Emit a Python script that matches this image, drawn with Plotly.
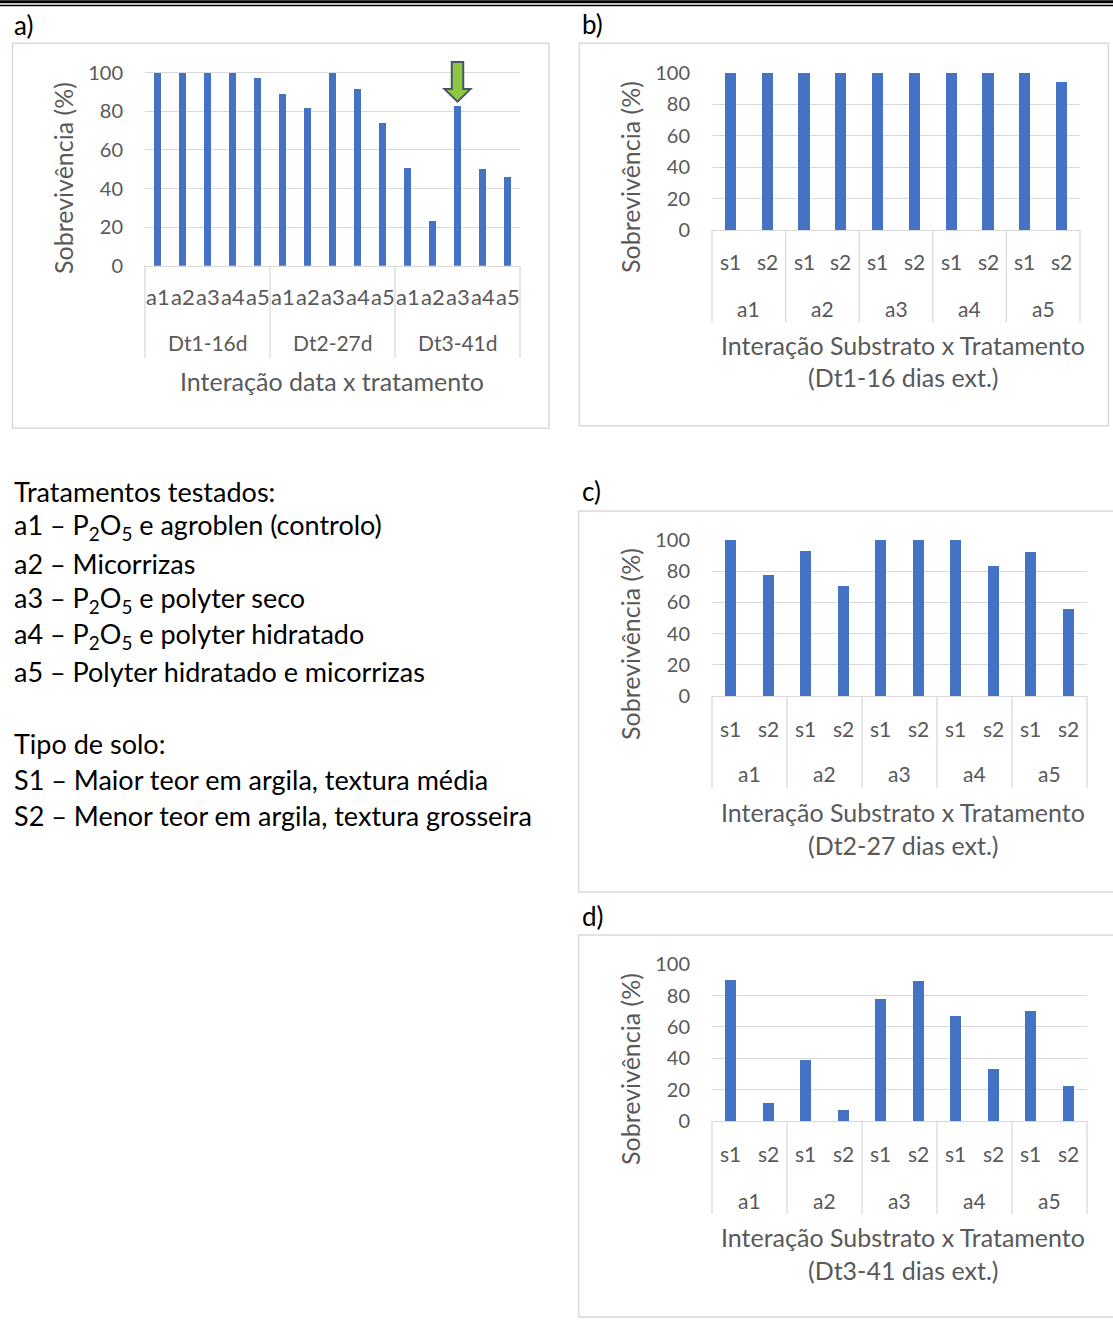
import plotly.graph_objects as go

# ---------------- data ----------------
treatments = ["a1", "a2", "a3", "a4", "a5"]
dates_a = ["Dt1-16d", "Dt2-27d", "Dt3-41d"]
surv_a_dt1 = [100, 100, 100, 100, 97]
surv_a_dt2 = [89, 81.5, 100, 91.5, 74]
surv_a_dt3 = [50.5, 23, 83, 50, 46]
soils = ["s1", "s2"]
surv_b = [100, 100, 100, 100, 100, 100, 100, 100, 100, 94.5]
surv_c = [100, 77.5, 93, 70.5, 100, 100, 100, 83.5, 92.5, 55.5]
surv_d = [90, 11, 39, 7, 77.5, 89, 66.5, 33, 70, 22]
y_ticks = [0, 20, 40, 60, 80, 100]
y_title = "Sobrevivência (%)"
title_a = "Interação data x tratamento"
title_bcd = "Interação Substrato x Tratamento"
sub_b = "(Dt1-16 dias ext.)"
sub_c = "(Dt2-27 dias ext.)"
sub_d = "(Dt3-41 dias ext.)"
legend_lines = [
    "Tratamentos testados:",
    "a1 – P<sub>2</sub>O<sub>5</sub> e agroblen (controlo)",
    "a2 – Micorrizas",
    "a3 – P<sub>2</sub>O<sub>5</sub> e polyter seco",
    "a4 – P<sub>2</sub>O<sub>5</sub> e polyter hidratado",
    "a5 – Polyter hidratado e micorrizas",
    "",
    "Tipo de solo:",
    "S1 – Maior teor em argila, textura média",
    "S2 – Menor teor em argila, textura grosseira",
]
panel_letters = ["a)", "b)", "c)", "d)"]

# ---------------- layout helpers ----------------
W, H = 1113, 1320
FONT = "Lato"
GREY = "#595959"
LINE = "#D9D9D9"
BAR = "#4472C4"


def fx(p):
    return p / W


def fy(p):
    return 1 - p / H


fig = go.Figure()
shapes = []
annotations = []

# panel geometry (pixels)
panels = [
    dict(x0=145, x1=520, y0=265.7, y100=72.7, ytop=59.0,
         sep_bottom=358, inner_y=296.5, outer_y=343, title_y=[381], title_x=332,
         ytitle_x=63, ytitle_y=178, box=(12.5, 43.3, 549, 428.3), letter=(12, 25)),
    dict(x0=712, x1=1080, y0=230, y100=72.7, ytop=72.7,
         sep_bottom=322.5, inner_y=261, outer_y=308, title_y=[345, 377], title_x=903,
         ytitle_x=630, ytitle_y=177, box=(579.3, 43.3, 1108.4, 425.7), letter=(580, 24)),
    dict(x0=712, x1=1087, y0=696, y100=540, ytop=540,
         sep_bottom=788, inner_y=728, outer_y=773, title_y=[812, 845], title_x=903,
         ytitle_x=630, ytitle_y=644, box=(578.7, 511, 1125, 892), letter=(580, 491)),
    dict(x0=712, x1=1087, y0=1121, y100=964.3, ytop=964.3,
         sep_bottom=1214, inner_y=1153, outer_y=1200, title_y=[1237, 1270], title_x=903,
         ytitle_x=630, ytitle_y=1069, box=(578.7, 935, 1125, 1317), letter=(580, 916)),
]

series = [
    surv_a_dt1 + surv_a_dt2 + surv_a_dt3,
    surv_b,
    surv_c,
    surv_d,
]
inner_labels = [
    treatments * len(dates_a),
    soils * len(treatments),
    soils * len(treatments),
    soils * len(treatments),
]
outer_labels = [dates_a, treatments, treatments, treatments]
group_sizes = [len(treatments), len(soils), len(soils), len(soils)]
titles = [[title_a], [title_bcd, sub_b], [title_bcd, sub_c], [title_bcd, sub_d]]

for i, (p, vals) in enumerate(zip(panels, series)):
    k = "" if i == 0 else str(i + 1)
    n = len(vals)
    idx = list(range(n))
    fig.add_trace(go.Bar(
        x=idx, y=vals, width=0.3, marker_color=BAR, marker_line_width=0,
        xaxis="x" + k, yaxis="y" + k, showlegend=False, hoverinfo="y"))
    per_px = 100.0 / (p["y0"] - p["y100"])
    ymax = (p["y0"] - p["ytop"]) * per_px
    fig.layout["xaxis" + k] = dict(
        domain=[fx(p["x0"]), fx(p["x1"])], range=[-0.5, n - 0.5],
        showticklabels=False, showgrid=False, zeroline=False, automargin=False,
        showline=True, linecolor=LINE, linewidth=1.3, anchor="y" + k)
    fig.layout["yaxis" + k] = dict(
        domain=[fy(p["y0"]), fy(p["ytop"])], range=[0, ymax], automargin=False,
        tickvals=y_ticks, ticks="outside", ticklen=17, tickcolor="rgba(0,0,0,0)",
        tickfont=dict(family=FONT, size=20, color=GREY),
        showgrid=True, gridcolor=LINE, gridwidth=1.3,
        zeroline=False, showline=False, anchor="x" + k)

    xr = "x" + k
    inner_size = 22 if i == 0 else 21
    for j, lab in enumerate(inner_labels[i]):
        annotations.append(dict(x=j, y=fy(p["inner_y"]), xref=xr, yref="paper",
                                text=lab, showarrow=False, xanchor="center", yanchor="middle",
                                font=dict(family=FONT, size=inner_size, color=GREY)))
    gs = group_sizes[i]
    for g, lab in enumerate(outer_labels[i]):
        annotations.append(dict(x=g * gs + (gs - 1) / 2, y=fy(p["outer_y"]), xref=xr, yref="paper",
                                text=lab, showarrow=False, xanchor="center", yanchor="middle",
                                font=dict(family=FONT, size=21, color=GREY)))
    ngroups = len(outer_labels[i])
    for g in range(ngroups + 1):
        shapes.append(dict(type="line", xref=xr + " domain", yref="paper",
                           x0=g / ngroups, x1=g / ngroups,
                           y0=fy(p["y0"]), y1=fy(p["sep_bottom"]),
                           line=dict(color=LINE, width=1.3)))
    for t, ty in zip(titles[i], p["title_y"]):
        annotations.append(dict(x=fx(p["title_x"]), y=fy(ty), xref="paper", yref="paper",
                                text=t, showarrow=False, xanchor="center", yanchor="middle",
                                font=dict(family=FONT, size=25, color=GREY)))
    annotations.append(dict(x=fx(p["ytitle_x"]), y=fy(p["ytitle_y"]),
                            xref="paper", yref="paper", text=y_title, textangle=-90,
                            xanchor="center", yanchor="middle",
                            showarrow=False, font=dict(family=FONT, size=25, color=GREY)))
    bx0, by0, bx1, by1 = p["box"]
    shapes.append(dict(type="rect", xref="paper", yref="paper",
                       x0=fx(bx0), x1=fx(bx1), y0=fy(by1), y1=fy(by0),
                       line=dict(color=LINE, width=1.5), layer="below"))
    lx, ly = p["letter"]
    annotations.append(dict(x=fx(lx), y=fy(ly), xref="paper", yref="paper",
                            text=panel_letters[i], showarrow=False, xanchor="left",
                            yanchor="middle", font=dict(family=FONT, size=26, color="black")))

# green arrow above Dt3 / a3 in panel a
ai = 2 * len(treatments) + 2
av = series[0][ai]
hs, hh = 0.23, 0.52
tip, base, top = av + 2, av + 8.5, av + 22.5
path = (f"M {ai-hs},{top} L {ai+hs},{top} L {ai+hs},{base} L {ai+hh},{base} "
        f"L {ai},{tip} L {ai-hh},{base} L {ai-hs},{base} Z")
shapes.append(dict(type="path", xref="x", yref="y", path=path,
                   fillcolor="#8DC640", line=dict(color="#44546A", width=2)))

# double rule at the top
shapes.append(dict(type="line", xref="paper", yref="paper", x0=0, x1=1, y0=fy(1.8), y1=fy(1.8),
                   line=dict(color="black", width=3)))
shapes.append(dict(type="line", xref="paper", yref="paper", x0=0, x1=1, y0=fy(5.5), y1=fy(5.5),
                   line=dict(color="black", width=1.3)))

# legend text block
for li, line in enumerate(legend_lines):
    if not line:
        continue
    annotations.append(dict(x=fx(12), y=fy(491 + 36 * li), xref="paper", yref="paper",
                            text=line, showarrow=False, xanchor="left", yanchor="middle",
                            font=dict(family=FONT, size=27, color="black")))

fig.update_layout(template="none", width=W, height=H, margin=dict(l=0, r=0, t=0, b=0, pad=0),
                  paper_bgcolor="white", plot_bgcolor="rgba(0,0,0,0)",
                  shapes=shapes, annotations=annotations, bargap=0, showlegend=False,
                  font=dict(family=FONT))
fig.write_html("out.html", config={"displayModeBar": False},
               post_script="document.body.style.margin='0';")
